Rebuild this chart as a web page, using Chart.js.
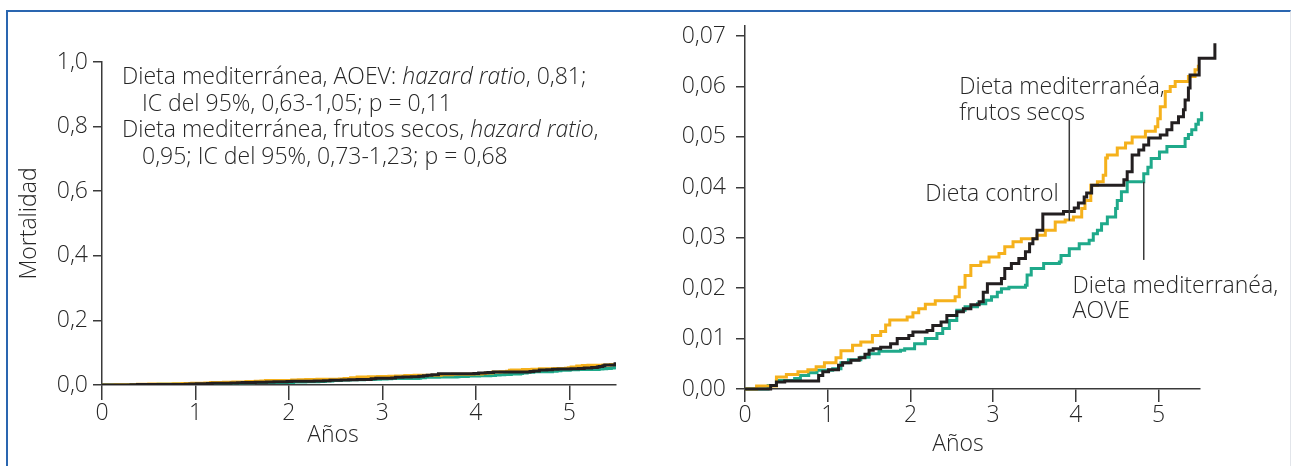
<!DOCTYPE html>
<html>
<head>
<meta charset="utf-8">
<script src="https://cdn.jsdelivr.net/npm/chart.js@4.4.0/dist/chart.umd.min.js"></script>
<style>
  html, body { margin: 0; padding: 0; background: #fff; overflow: hidden; }
  #frame { position: absolute; left: 6px; top: 10px; width: 1285px; height: 470px; box-sizing: border-box;
           border-top: 2px solid #2a66b0; border-left: 2px solid #2a66b0; border-right: 1px solid #e2e5ea; }
  canvas { position: absolute; top: 0; }
  #left { left: 0; }
  #right { left: 660px; }
</style>
</head>
<body>
<div id="frame"></div>
<canvas id="left" width="660" height="466"></canvas>
<canvas id="right" width="631" height="466"></canvas>
<script>
// Kaplan-Meier curves (years, cumulative mortality)
const ctrlT = [0, 0.31, 0.38, 0.48, 0.89, 0.94, 1.01, 1.13, 1.18, 1.28, 1.38, 1.45, 1.50, 1.55, 1.64, 1.76, 1.84, 1.98, 2.03, 2.20, 2.27, 2.37, 2.44, 2.56, 2.64, 2.73, 2.83, 2.88, 2.93, 3.10, 3.14, 3.22, 3.31, 3.39, 3.44, 3.48, 3.53, 3.60, 3.85, 3.98, 4.03, 4.10, 4.13, 4.19, 4.58, 4.62, 4.68, 4.76, 4.82, 4.88, 5.02, 5.10, 5.16, 5.24, 5.30, 5.32, 5.36, 5.38, 5.49, 5.68, 5.72, 5.77];
const ctrlY = [0, 0.0007, 0.0014, 0.0016, 0.0027, 0.0034, 0.0038, 0.0047, 0.0052, 0.0057, 0.0062, 0.0069, 0.0077, 0.0080, 0.0083, 0.0090, 0.0100, 0.0106, 0.0113, 0.0116, 0.0126, 0.0133, 0.0146, 0.0153, 0.0159, 0.0167, 0.0173, 0.0192, 0.0209, 0.0219, 0.0239, 0.0249, 0.0259, 0.0272, 0.0288, 0.0298, 0.0315, 0.0347, 0.0352, 0.0359, 0.0369, 0.0381, 0.0389, 0.0404, 0.0415, 0.0431, 0.0464, 0.0474, 0.0484, 0.0498, 0.0504, 0.0514, 0.0528, 0.0540, 0.0554, 0.0573, 0.0597, 0.0623, 0.0656, 0.0686, 0.0699, 0.0699];

const nutsT = [0, 0.14, 0.38, 0.50, 0.64, 0.76, 0.86, 0.96, 1.10, 1.16, 1.30, 1.40, 1.54, 1.64, 1.70, 1.75, 1.96, 2.03, 2.10, 2.18, 2.30, 2.54, 2.59, 2.66, 2.73, 2.85, 2.95, 3.07, 3.14, 3.24, 3.34, 3.53, 3.63, 3.75, 3.87, 3.97, 4.07, 4.11, 4.18, 4.26, 4.33, 4.36, 4.38, 4.50, 4.60, 4.68, 4.84, 4.96, 4.99, 5.02, 5.08, 5.14, 5.20, 5.36, 5.44, 5.48];
const nutsY = [0, 0.0006, 0.0024, 0.0029, 0.0034, 0.0038, 0.0044, 0.0052, 0.0062, 0.0076, 0.0087, 0.0093, 0.0106, 0.0114, 0.0127, 0.0137, 0.0143, 0.0151, 0.0159, 0.0168, 0.0175, 0.0183, 0.0202, 0.0225, 0.0245, 0.0252, 0.0262, 0.0269, 0.0282, 0.0292, 0.0298, 0.0305, 0.0315, 0.0331, 0.0335, 0.0341, 0.0358, 0.0374, 0.0404, 0.0411, 0.0424, 0.0458, 0.0464, 0.0478, 0.0488, 0.0500, 0.0511, 0.0520, 0.0536, 0.0560, 0.0590, 0.0600, 0.0610, 0.0620, 0.0633, 0.0643];

const oilT = [0, 0.28, 0.38, 0.60, 0.67, 0.77, 0.87, 1.06, 1.16, 1.25, 1.40, 1.50, 1.62, 1.88, 1.93, 2.05, 2.18, 2.32, 2.39, 2.47, 2.56, 2.66, 2.81, 2.91, 2.98, 3.05, 3.10, 3.19, 3.39, 3.41, 3.46, 3.61, 3.80, 3.82, 3.92, 4.04, 4.16, 4.21, 4.26, 4.31, 4.38, 4.48, 4.50, 4.55, 4.62, 4.82, 4.87, 4.91, 5.01, 5.10, 5.32, 5.36, 5.40, 5.45, 5.48, 5.52, 5.54];
const oilY = [0, 0.0007, 0.0017, 0.0021, 0.0027, 0.0032, 0.0037, 0.0040, 0.0052, 0.0058, 0.0063, 0.0070, 0.0075, 0.0077, 0.0080, 0.0090, 0.0100, 0.0110, 0.0120, 0.0136, 0.0156, 0.0163, 0.0169, 0.0176, 0.0183, 0.0192, 0.0199, 0.0202, 0.0206, 0.0226, 0.0239, 0.0249, 0.0252, 0.0265, 0.0278, 0.0288, 0.0295, 0.0308, 0.0315, 0.0328, 0.0341, 0.0358, 0.0374, 0.0391, 0.0411, 0.0427, 0.0440, 0.0457, 0.0470, 0.0481, 0.0497, 0.0505, 0.0514, 0.0525, 0.0534, 0.0550, 0.0561];

// axis ticks
const xTicks = [0, 1, 2, 3, 4, 5];
const xLabels = ['0', '1', '2', '3', '4', '5'];
const leftYTicks = [0, 0.2, 0.4, 0.6, 0.8, 1.0];
const leftYLabels = ['0,0', '0,2', '0,4', '0,6', '0,8', '1,0'];
const rightYTicks = [0, 0.01, 0.02, 0.03, 0.04, 0.05, 0.06, 0.07];
const rightYLabels = ['0,00', '0,01', '0,02', '0,03', '0,04', '0,05', '0,06', '0,07'];

const FONT = "'Open Sans', sans-serif";
const WEIGHT = 300;
const SIZE = 23;
const TEXT = '#262626';
const AXIS = '#3a3a3a';
const COLORS = { ctrl: '#231f20', nuts: '#f5b11c', oil: '#1fa98a' };

const toPoints = (ts, ys) => ts.map((t, i) => ({ x: t, y: ys[i] }));

const makeSets = (width, clip) => [
  { label: 'Dieta control', data: toPoints(ctrlT, ctrlY), borderColor: COLORS.ctrl },
  { label: 'Dieta mediterránea, frutos secos', data: toPoints(nutsT, nutsY), borderColor: COLORS.nuts },
  { label: 'Dieta mediterránea, AOVE', data: toPoints(oilT, oilY), borderColor: COLORS.oil },
].map((d) => Object.assign(d, {
  stepped: 'before', borderWidth: width, pointRadius: 0, fill: false, clip: clip,
  borderJoinStyle: 'miter',
}));

const fixTicks = (values) => (scale) => { scale.ticks = values.map((v) => ({ value: v })); };

const tickFont = { family: FONT, size: SIZE, weight: WEIGHT };
const cssFont = (italic) => (italic ? 'italic ' : '') + WEIGHT + ' ' + SIZE + 'px ' + FONT;

const xScale = (height, tickLen) => ({
  type: 'linear', min: 0, max: 5.5,
  afterBuildTicks: fixTicks(xTicks),
  afterFit: (s) => { s.height = height; },
  grid: { drawOnChartArea: false, tickLength: tickLen, color: AXIS, lineWidth: 1.5 },
  border: { color: AXIS, width: 1.5 },
  ticks: { padding: 0, color: TEXT, font: tickFont, maxRotation: 0, autoSkip: false,
           callback: (v, i) => xLabels[i] },
});

const yScale = (max, ticks, labels, width, pad, title) => ({
  type: 'linear', min: 0, max: max,
  afterBuildTicks: fixTicks(ticks),
  afterFit: (s) => { s.width = width; },
  grid: { drawOnChartArea: false, tickLength: 9, color: AXIS, lineWidth: 1.5 },
  border: { color: AXIS, width: 1.5 },
  ticks: { padding: pad, color: TEXT, font: tickFont, autoSkip: false,
           callback: (v, i) => labels[i] },
  title: title ? { display: true, text: title, color: TEXT, font: tickFont, padding: { top: 16 } }
               : { display: false },
});

// draws a line made of [text, italic] pieces
const drawRich = (ctx, parts, x, y) => {
  parts.forEach(([txt, it]) => {
    ctx.font = cssFont(it);
    ctx.fillText(txt, x, y);
    x += ctx.measureText(txt).width;
  });
};

const leftNotes = {
  id: 'leftNotes',
  afterDraw(chart) {
    const ctx = chart.ctx;
    ctx.save();
    ctx.fillStyle = TEXT;
    ctx.textBaseline = 'alphabetic';
    ctx.textAlign = 'left';
    drawRich(ctx, [['Dieta mediterránea, AOEV: ', false], ['hazard ratio', true], [', 0,81;', false]], 122, 84);
    drawRich(ctx, [['IC del 95%, 0,63-1,05; p = 0,11', false]], 142, 111);
    drawRich(ctx, [['Dieta mediterránea, frutos secos, ', false], ['hazard ratio', true], [',', false]], 122, 137);
    drawRich(ctx, [['0,95; IC del 95%, 0,73-1,23; p = 0,68', false]], 142, 164);
    ctx.textAlign = 'center';
    ctx.font = cssFont(false);
    ctx.fillText('Años', 333, 442);
    ctx.restore();
  },
};

// label anchors in data units (years, mortality)
const rightNotes = {
  id: 'rightNotes',
  afterDraw(chart) {
    const { ctx, scales: { x, y } } = chart;
    ctx.save();
    ctx.strokeStyle = AXIS;
    ctx.lineWidth = 1.5;
    [[3.92, 0.0534, 0.0334], [4.82, 0.0411, 0.0256]].forEach(([t, y0, y1]) => {
      ctx.beginPath();
      ctx.moveTo(x.getPixelForValue(t), y.getPixelForValue(y0));
      ctx.lineTo(x.getPixelForValue(t), y.getPixelForValue(y1));
      ctx.stroke();
    });
    ctx.fillStyle = TEXT;
    ctx.font = cssFont(false);
    ctx.textAlign = 'left';
    ctx.textBaseline = 'alphabetic';
    const put = (txt, t, v) => ctx.fillText(txt, x.getPixelForValue(t), y.getPixelForValue(v));
    put('Dieta mediterranéa,', 2.59, 0.0585);
    put('frutos secos', 2.59, 0.0534);
    put('Dieta control', 2.18, 0.0373);
    put('Dieta mediterranéa,', 3.96, 0.0191);
    put('AOVE', 3.96, 0.0141);
    ctx.textAlign = 'center';
    ctx.fillText('Años', 958 - 660, 451);
    ctx.restore();
  },
};

const common = {
  responsive: false, animation: false, devicePixelRatio: 1,
  plugins: { legend: { display: false }, tooltip: { enabled: false } },
};

new Chart(document.getElementById('left'), {
  type: 'line',
  data: { datasets: makeSets(3, 0) },
  options: Object.assign({}, common, {
    layout: { padding: { left: 0, top: 62, right: 44, bottom: 0 } },
    scales: {
      x: xScale(81, 15),
      y: yScale(1.0, leftYTicks, leftYLabels, 102, 5, 'Mortalidad'),
    },
  }),
  plugins: [leftNotes],
});

new Chart(document.getElementById('right'), {
  type: 'line',
  data: { datasets: makeSets(3, false) },
  options: Object.assign({}, common, {
    layout: { padding: { left: 0, top: 26, right: 91, bottom: 0 } },
    scales: {
      x: xScale(77, 13),
      y: yScale(0.072, rightYTicks, rightYLabels, 85, 10, null),
    },
  }),
  plugins: [rightNotes],
});
</script>
</body>
</html>
